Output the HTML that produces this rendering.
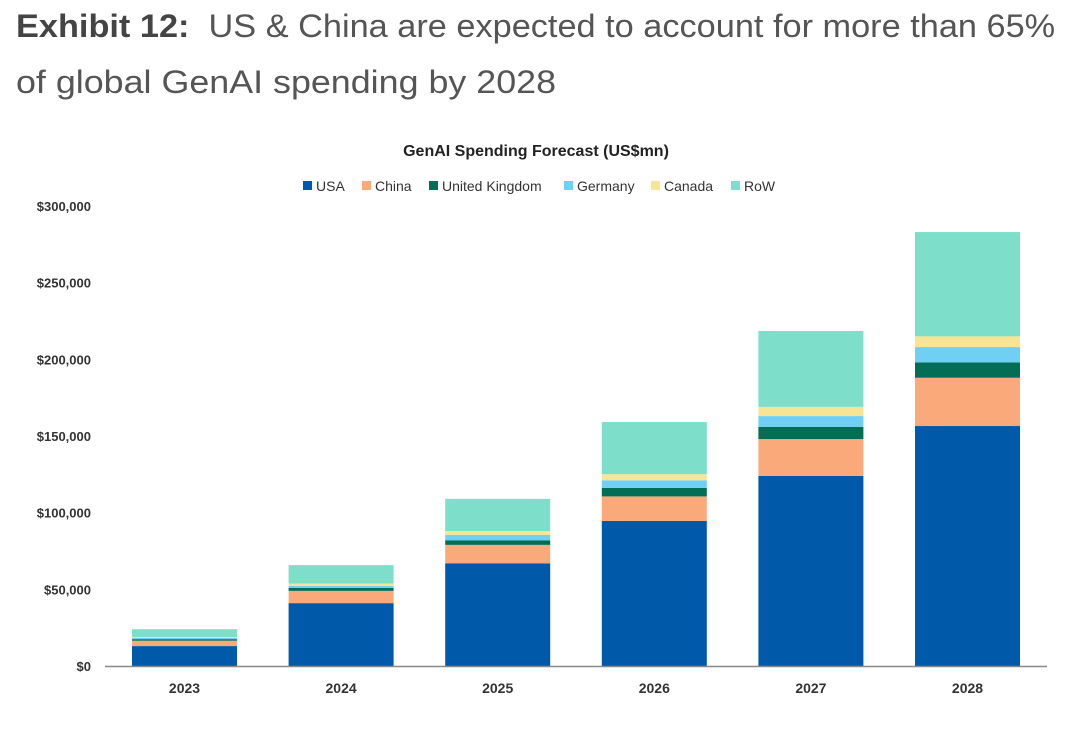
<!DOCTYPE html>
<html><head><meta charset="utf-8"><style>
body{margin:0;background:#fff;width:1080px;height:731px;overflow:hidden;font-family:"Liberation Sans",sans-serif;}
.t{position:absolute;left:16px;font-size:32px;color:#555;white-space:nowrap;transform-origin:0 0;}
</style></head><body>
<div class="t" style="top:8px;transform:scaleX(1.072);"><b style="color:#444">Exhibit 12:</b>&nbsp; US &amp; China are expected to account for more than 65%</div>
<div class="t" style="top:64px;transform:scaleX(1.12);">of global GenAI spending by 2028</div>
<svg id="c" width="1080" height="731" style="position:absolute;left:0;top:0"></svg>
<script>
const years=["2023","2024","2025","2026","2027","2028"];
const seriesNames=["USA","China","United Kingdom","Germany","Canada","RoW"];
const usa=[13000,41000,67000,94600,124000,156500];
const china=[3500,8000,12000,16000,24000,31500];
const uk=[1000,2000,3000,5500,8000,10000];
const germany=[800,1300,3500,5000,7000,10000];
const canada=[500,1500,2500,4000,6000,7000];
const row=[5200,12000,21000,34000,49500,68000];
const yTicks=[0,50000,100000,150000,200000,250000,300000];
const colors=["#005aa9","#f9a97a","#036d55","#6fd0f4","#f7e494","#7ddfca"];
const series=[usa,china,uk,germany,canada,row];
const svg=document.getElementById('c');
const NS="http://www.w3.org/2000/svg";
const y0=666,yTop=206,yMax=300000;
const y=v=>y0-(v/yMax)*(y0-yTop);
const x=i=>132+i*156.6;
const bw=105;
function mk(tag,attrs,txt){const e=document.createElementNS(NS,tag);for(const k in attrs)e.setAttribute(k,attrs[k]);if(txt!==undefined)e.textContent=txt;svg.appendChild(e);return e;}
const ttl=mk('text',{x:536,y:156,'text-anchor':'middle','font-size':16,'font-weight':'bold',fill:'#222'},'GenAI Spending Forecast (US$mn)');


const legX=[303,362,429,564,651,731];
seriesNames.forEach((n,i)=>{
  const r=mk('rect',{x:legX[i],y:181,width:9,height:9,fill:colors[i]});
  
  
  const t=mk('text',{x:legX[i]+13,y:191,'font-size':14,fill:'#333'},n);
  
  
});
yTicks.forEach(v=>{
  const t=mk('text',{x:91,y:y(v)+5,'text-anchor':'end','font-size':13,'font-weight':'bold',fill:'#333'},'$'+v.toLocaleString('en-US'));
  
  
});
years.forEach((yr,i)=>{
  let cum=0;
  series.forEach((s,k)=>{
    const top=y(cum+s[i]),bot=y(cum);
    const r=mk('rect',{x:x(i),y:top,width:bw,height:bot-top,fill:colors[k]});
    
    
    cum+=s[i];
  });
  const t=mk('text',{x:x(i)+bw/2,y:693,'text-anchor':'middle','font-size':14,'font-weight':'bold',fill:'#333'},yr);
  
  
});
const ax=mk('line',{x1:105,x2:1047,y1:y0+0.5,y2:y0+0.5,stroke:'#888','stroke-width':1.5});


</script>
</body></html>
